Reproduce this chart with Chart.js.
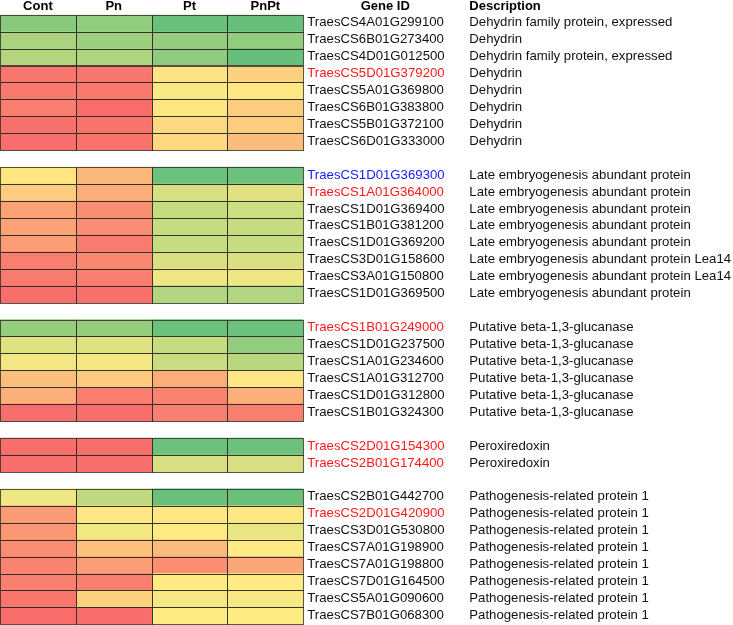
<!DOCTYPE html>
<html>
<head>
<meta charset="utf-8">
<script src="https://cdn.jsdelivr.net/npm/chart.js@4"></script>
<style>
  html, body { margin: 0; padding: 0; background: #fff; }
  #wrap { width: 733px; height: 625px; position: relative; }
</style>
</head>
<body>
<div id="wrap"><canvas id="c" width="733" height="625"></canvas></div>
<script>
// Column headers
const columns = ["Cont", "Pn", "Pt", "PnPt"];

// Group sizes (rows per group, a blank slot between groups)
const groupSizes = [8, 8, 6, 2, 8];

// Gene IDs
const geneIds = [
  "TraesCS4A01G299100", "TraesCS6B01G273400", "TraesCS4D01G012500", "TraesCS5D01G379200",
  "TraesCS5A01G369800", "TraesCS6B01G383800", "TraesCS5B01G372100", "TraesCS6D01G333000",
  "TraesCS1D01G369300", "TraesCS1A01G364000", "TraesCS1D01G369400", "TraesCS1B01G381200",
  "TraesCS1D01G369200", "TraesCS3D01G158600", "TraesCS3A01G150800", "TraesCS1D01G369500",
  "TraesCS1B01G249000", "TraesCS1D01G237500", "TraesCS1A01G234600", "TraesCS1A01G312700",
  "TraesCS1D01G312800", "TraesCS1B01G324300",
  "TraesCS2D01G154300", "TraesCS2B01G174400",
  "TraesCS2B01G442700", "TraesCS2D01G420900", "TraesCS3D01G530800", "TraesCS7A01G198900",
  "TraesCS7A01G198800", "TraesCS7D01G164500", "TraesCS5A01G090600", "TraesCS7B01G068300"
];

// Gene ID highlight: 0 = black, 1 = red, 2 = blue
const idHighlight = [
  0, 0, 0, 1, 0, 0, 0, 0,
  2, 1, 0, 0, 0, 0, 0, 0,
  1, 0, 0, 0, 0, 0,
  1, 1,
  0, 1, 0, 0, 0, 0, 0, 0
];

// Descriptions
const descriptions = [
  "Dehydrin family protein, expressed", "Dehydrin", "Dehydrin family protein, expressed", "Dehydrin",
  "Dehydrin", "Dehydrin", "Dehydrin", "Dehydrin",
  "Late embryogenesis abundant protein", "Late embryogenesis abundant protein", "Late embryogenesis abundant protein", "Late embryogenesis abundant protein",
  "Late embryogenesis abundant protein", "Late embryogenesis abundant protein Lea14", "Late embryogenesis abundant protein Lea14", "Late embryogenesis abundant protein",
  "Putative beta-1,3-glucanase", "Putative beta-1,3-glucanase", "Putative beta-1,3-glucanase", "Putative beta-1,3-glucanase",
  "Putative beta-1,3-glucanase", "Putative beta-1,3-glucanase",
  "Peroxiredoxin", "Peroxiredoxin",
  "Pathogenesis-related protein 1", "Pathogenesis-related protein 1", "Pathogenesis-related protein 1", "Pathogenesis-related protein 1",
  "Pathogenesis-related protein 1", "Pathogenesis-related protein 1", "Pathogenesis-related protein 1", "Pathogenesis-related protein 1"
];

const cont = [88, 77, 74, 5, 6, 8, 3, 2,
              48, 38, 22, 22, 20, 8, 7, 2,
              84, 60, 54, 33, 27, 2,
              2, 2,
              55, 19, 18, 14, 10, 9, 5, 1];
const pn   = [85, 81, 76, 5, 6, 1, 4, 4,
              30, 26, 15, 14, 7, 12, 8, 3,
              84, 60, 54, 37, 8, 2,
              2, 2,
              70, 49, 54, 34, 20, 8, 40, 2];
const pt   = [98, 84, 86, 47, 52, 48, 43, 43,
              97, 63, 68, 68, 68, 62, 55, 75,
              97, 68, 67, 26, 10, 9,
              97, 63,
              98, 49, 50, 31, 14, 50, 53, 50];
const pnpt = [99, 85, 99, 40, 49, 38, 38, 32,
              97, 60, 66, 68, 68, 62, 55, 75,
              97, 85, 72, 49, 27, 8,
              97, 63,
              98, 49, 57, 50, 24, 50, 53, 50];

// ---- build slot layout (gap slot between groups) ----
const slotIndex = [];   // slot -> row index or -1
{
  let r = 0;
  groupSizes.forEach((n, g) => {
    if (g > 0) slotIndex.push(-1);
    for (let k = 0; k < n; k++) slotIndex.push(r++);
  });
}
const slotLabels = slotIndex.map(i => i >= 0 ? geneIds[i] : "");
const series = [cont, pn, pt, pnpt];

function scaleColor(v) {
  const red = [248, 105, 107], yel = [255, 235, 132], grn = [99, 190, 123];
  let a, b, t;
  if (v <= 50) { a = red; b = yel; t = v / 50; } else { a = yel; b = grn; t = (v - 50) / 50; }
  const c = a.map((x, k) => Math.round(x + (b[k] - x) * t));
  return `rgb(${c[0]},${c[1]},${c[2]})`;
}

const datasets = series.map((vals, ci) => {
  const slotVals = slotIndex.map(i => i >= 0 ? vals[i] : null);
  return {
    label: columns[ci],
    data: slotIndex.map(i => i >= 0 ? [ci, ci + 1] : null),
    backgroundColor: slotVals.map(v => v == null ? 'rgba(0,0,0,0)' : scaleColor(v)),
    borderWidth: 0,
    barPercentage: 1,
    categoryPercentage: 1,
    grouped: false
  };
});

const textPlugin = {
  id: 'heatText',
  afterDatasetsDraw(chart) {
    const ctx = chart.ctx;
    const area = chart.chartArea;
    const xs = chart.scales.x, ys = chart.scales.y;
    ctx.save();
    // cell borders
    ctx.lineWidth = 1;
    ctx.strokeStyle = 'rgba(45,45,35,0.8)';
    chart.data.datasets.forEach((ds, di) => {
      const meta = chart.getDatasetMeta(di);
      meta.data.forEach((el, i) => {
        if (slotIndex[i] < 0) return;
        const p = el.getProps(['x', 'y', 'base', 'height'], true);
        const left = Math.min(p.x, p.base), right = Math.max(p.x, p.base);
        const top = p.y - p.height / 2;
        ctx.strokeRect(Math.round(left) + 0.5, Math.round(top) + 0.5,
                       Math.round(right) - Math.round(left), Math.round(top + p.height) - Math.round(top));
      });
    });
    // headers
    ctx.fillStyle = '#000';
    ctx.textBaseline = 'middle';
    ctx.font = 'bold 13px "Liberation Sans", Arial, sans-serif';
    ctx.textAlign = 'center';
    const hy = 6.5;
    columns.forEach((c, i) => {
      ctx.fillText(c, xs.getPixelForValue(i + 0.5), hy);
    });
    const idX = area.right + 4;
    const descX = area.right + 166;
    ctx.fillText("Gene ID", idX + 78, hy);
    ctx.textAlign = 'left';
    ctx.fillText("Description", descX, hy - 0.5);
    // row texts
    ctx.font = '13.2px "Liberation Sans", Arial, sans-serif';
    slotIndex.forEach((ri, s) => {
      if (ri < 0) return;
      const y = ys.getPixelForValue(s) - 0.5;
      ctx.fillStyle = idHighlight[ri] === 1 ? '#ff1a1a' : idHighlight[ri] === 2 ? '#1a1aff' : '#111';
      ctx.fillText(geneIds[ri], idX, y);
      ctx.fillStyle = '#111';
      ctx.fillText(descriptions[ri], descX, y);
    });
    ctx.restore();
  }
};

new Chart(document.getElementById('c'), {
  type: 'bar',
  data: { labels: slotLabels, datasets },
  options: {
    indexAxis: 'y',
    responsive: false,
    animation: false,
    events: [],
    layout: { padding: { left: 0, right: 429.7, top: 14.7, bottom: 0.7 } },
    plugins: { legend: { display: false }, tooltip: { enabled: false } },
    scales: {
      x: { type: 'linear', min: 0, max: 4, display: false },
      y: { type: 'category', display: false, offset: true }
    }
  },
  plugins: [textPlugin]
});
</script>
</body>
</html>
